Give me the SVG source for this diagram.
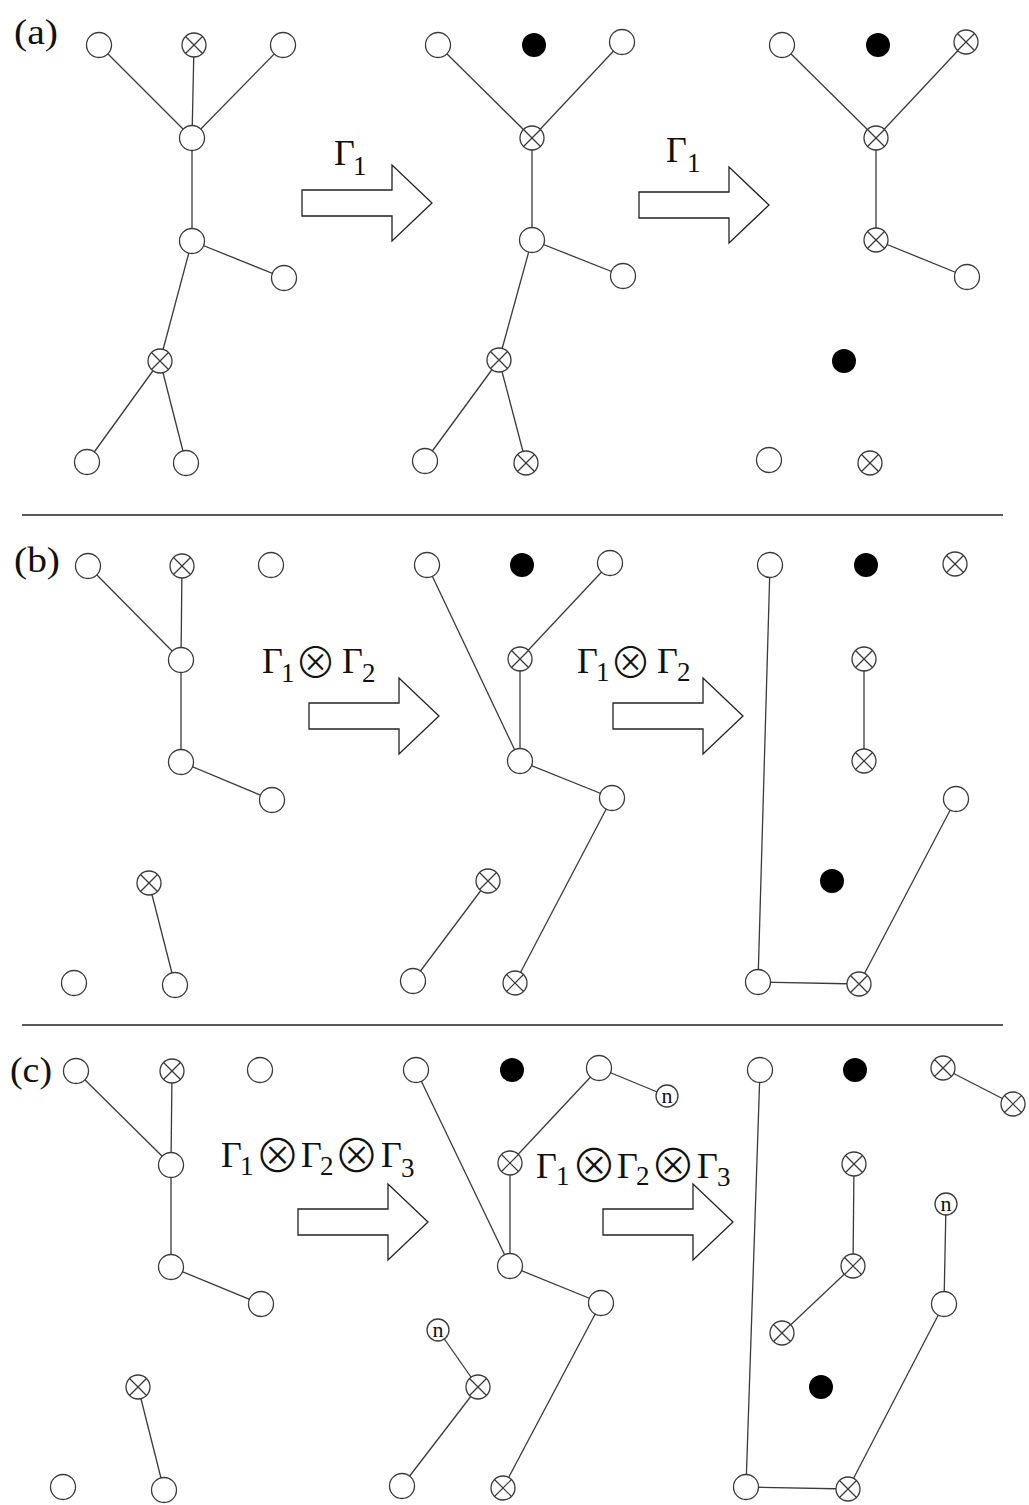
<svg xmlns="http://www.w3.org/2000/svg" xmlns:xlink="http://www.w3.org/1999/xlink" width="1029" height="1505" viewBox="0 0 1029 1505">
  <style>
    .bg { fill: #fff; }
    .ring { fill: #fff; stroke: #3a3a3a; stroke-width: 1.3; }
    .cross { stroke: #3a3a3a; stroke-width: 1.2; }
    .dot { fill: #000; }
    .edge { stroke: #3a3a3a; stroke-width: 1.3; fill: none; }
    .rule { stroke: #222; stroke-width: 1.3; }
    .arrow { fill: #fff; stroke: #222; stroke-width: 1.3; stroke-linejoin: miter; }
    .panel { font-family: "Liberation Serif", "Times New Roman", "DejaVu Serif", serif; font-size: 36px; fill: #111; }
    .gam { font-family: "Liberation Serif", "Times New Roman", "DejaVu Serif", serif; font-size: 36px; fill: #111; }
    .sub { font-family: "Liberation Serif", "Times New Roman", "DejaVu Serif", serif; font-size: 27px; fill: #111; }
    .otimes { font-family: "Noto Sans CJK JP", "Noto Sans CJK SC", "DejaVu Sans", sans-serif; font-weight: 300; fill: #111; text-anchor: middle; }
    .nlab { font-family: "Liberation Serif", "Times New Roman", "DejaVu Serif", serif; font-size: 22px; fill: #111; text-anchor: middle; }
  </style>
  <defs>
    <!-- open vertex -->
    <g id="o"><circle class="ring" r="12.5"/></g>
    <!-- crossed vertex -->
    <g id="x">
      <circle class="ring" r="12"/>
      <line class="cross" x1="-8.5" y1="-8.5" x2="8.5" y2="8.5"/>
      <line class="cross" x1="-8.5" y1="8.5" x2="8.5" y2="-8.5"/>
    </g>
    <!-- filled vertex -->
    <g id="f"><circle class="dot" r="12"/></g>
    <!-- vertex marked n -->
    <g id="n">
      <circle class="ring" r="11"/>
      <text class="nlab" x="0" y="6.5">n</text>
    </g>
    <!-- block arrow -->
    <path id="blk" class="arrow" d="M0,0 H90 V-25 L130,13 L90,51 V26 H0 Z"/>
  </defs>

  <rect class="bg" x="0" y="0" width="1029" height="1505"/>

  <!-- panel labels and separators -->
  <g id="panel-labels">
    <text class="panel" x="14" y="44" textLength="44" lengthAdjust="spacingAndGlyphs">(a)</text>
    <text class="panel" x="14" y="572" textLength="46" lengthAdjust="spacingAndGlyphs">(b)</text>
    <text class="panel" x="10" y="1082" textLength="42" lengthAdjust="spacingAndGlyphs">(c)</text>
  </g>
  <g id="separators">
    <line class="rule" x1="22" y1="515" x2="1003" y2="515"/>
    <line class="rule" x1="22" y1="1025" x2="1003" y2="1025"/>
  </g>

  <!-- connectors -->
  <g id="connectors">
    <!-- (a) -->
    <line class="edge" x1="99" y1="45" x2="192" y2="138"/>
    <line class="edge" x1="194" y1="45" x2="192" y2="138"/>
    <line class="edge" x1="283" y1="45" x2="192" y2="138"/>
    <line class="edge" x1="192" y1="138" x2="192" y2="241"/>
    <line class="edge" x1="192" y1="241" x2="284" y2="278"/>
    <line class="edge" x1="192" y1="241" x2="160" y2="361"/>
    <line class="edge" x1="160" y1="361" x2="87" y2="462"/>
    <line class="edge" x1="160" y1="361" x2="186" y2="463"/>

    <line class="edge" x1="438" y1="45" x2="532" y2="138"/>
    <line class="edge" x1="622" y1="42" x2="532" y2="138"/>
    <line class="edge" x1="532" y1="138" x2="532" y2="240"/>
    <line class="edge" x1="532" y1="240" x2="623" y2="276"/>
    <line class="edge" x1="532" y1="240" x2="499" y2="360"/>
    <line class="edge" x1="499" y1="360" x2="425" y2="461"/>
    <line class="edge" x1="499" y1="360" x2="526" y2="463"/>

    <line class="edge" x1="782" y1="45" x2="876" y2="138"/>
    <line class="edge" x1="966" y1="42" x2="876" y2="138"/>
    <line class="edge" x1="876" y1="138" x2="876" y2="240"/>
    <line class="edge" x1="876" y1="240" x2="967" y2="277"/>

    <!-- (b) -->
    <line class="edge" x1="88" y1="566" x2="181" y2="660"/>
    <line class="edge" x1="182" y1="566" x2="181" y2="660"/>
    <line class="edge" x1="181" y1="660" x2="181" y2="762"/>
    <line class="edge" x1="181" y1="762" x2="272" y2="800"/>
    <line class="edge" x1="149" y1="883" x2="175" y2="985"/>

    <line class="edge" x1="427" y1="565" x2="520" y2="761"/>
    <line class="edge" x1="610" y1="563" x2="520" y2="659"/>
    <line class="edge" x1="520" y1="659" x2="520" y2="761"/>
    <line class="edge" x1="520" y1="761" x2="612" y2="798"/>
    <line class="edge" x1="612" y1="798" x2="515" y2="983"/>
    <line class="edge" x1="488" y1="881" x2="413" y2="981"/>

    <line class="edge" x1="770" y1="565" x2="758" y2="982"/>
    <line class="edge" x1="758" y1="982" x2="859" y2="984"/>
    <line class="edge" x1="956" y1="799" x2="859" y2="984"/>
    <line class="edge" x1="864" y1="659" x2="864" y2="761"/>

    <!-- (c) -->
    <line class="edge" x1="76" y1="1071" x2="171" y2="1165"/>
    <line class="edge" x1="172" y1="1071" x2="171" y2="1165"/>
    <line class="edge" x1="171" y1="1165" x2="171" y2="1267"/>
    <line class="edge" x1="171" y1="1267" x2="261" y2="1304"/>
    <line class="edge" x1="138" y1="1387" x2="164" y2="1490"/>

    <line class="edge" x1="416" y1="1070" x2="510" y2="1266"/>
    <line class="edge" x1="599" y1="1068" x2="510" y2="1163"/>
    <line class="edge" x1="599" y1="1068" x2="667" y2="1096"/>
    <line class="edge" x1="510" y1="1163" x2="510" y2="1266"/>
    <line class="edge" x1="510" y1="1266" x2="601" y2="1303"/>
    <line class="edge" x1="601" y1="1303" x2="503" y2="1488"/>
    <line class="edge" x1="438" y1="1330" x2="478" y2="1387"/>
    <line class="edge" x1="478" y1="1387" x2="402" y2="1486"/>

    <line class="edge" x1="760" y1="1070" x2="746" y2="1487"/>
    <line class="edge" x1="746" y1="1487" x2="848" y2="1489"/>
    <line class="edge" x1="944" y1="1304" x2="848" y2="1489"/>
    <line class="edge" x1="946" y1="1204" x2="944" y2="1304"/>
    <line class="edge" x1="854" y1="1164" x2="853" y2="1266"/>
    <line class="edge" x1="853" y1="1266" x2="782" y2="1333"/>
    <line class="edge" x1="943" y1="1068" x2="1013" y2="1104"/>
  </g>

  <!-- transition arrows -->
  <g id="arrow-a1"><use xlink:href="#blk" href="#blk" transform="translate(302,190)"/></g>
  <g id="arrow-a2"><use xlink:href="#blk" href="#blk" transform="translate(639,192)"/></g>
  <g id="arrow-b1"><use xlink:href="#blk" href="#blk" transform="translate(309,703)"/></g>
  <g id="arrow-b2"><use xlink:href="#blk" href="#blk" transform="translate(613,703)"/></g>
  <g id="arrow-c1"><use xlink:href="#blk" href="#blk" transform="translate(298,1209)"/></g>
  <g id="arrow-c2"><use xlink:href="#blk" href="#blk" transform="translate(603,1209)"/></g>

  <!-- operator labels -->
  <g id="label-a1">
    <text class="gam" x="334" y="165">Γ</text><text class="sub" x="353" y="175">1</text>
  </g>
  <g id="label-a2">
    <text class="gam" x="666" y="162">Γ</text><text class="sub" x="687" y="172">1</text>
  </g>
  <g id="label-b1">
    <text class="gam" x="262" y="673">Γ</text><text class="sub" x="281" y="682">1</text>
    <text class="otimes" x="315.5" y="677.5" font-size="42">⊗</text>
    <text class="gam" x="342" y="673">Γ</text><text class="sub" x="362" y="682">2</text>
  </g>
  <g id="label-b2">
    <text class="gam" x="577" y="673">Γ</text><text class="sub" x="596" y="681">1</text>
    <text class="otimes" x="630.5" y="677.5" font-size="42">⊗</text>
    <text class="gam" x="657" y="673">Γ</text><text class="sub" x="677" y="681">2</text>
  </g>
  <g id="label-c1">
    <text class="gam" x="221" y="1167">Γ</text><text class="sub" x="240" y="1175">1</text>
    <text class="otimes" x="277.5" y="1172" font-size="46">⊗</text>
    <text class="gam" x="301" y="1167">Γ</text><text class="sub" x="320" y="1175">2</text>
    <text class="otimes" x="356.5" y="1172" font-size="46">⊗</text>
    <text class="gam" x="381" y="1167">Γ</text><text class="sub" x="401" y="1177">3</text>
  </g>
  <g id="label-c2">
    <text class="gam" x="536" y="1178">Γ</text><text class="sub" x="556" y="1185">1</text>
    <text class="otimes" x="594" y="1182" font-size="46">⊗</text>
    <text class="gam" x="617" y="1178">Γ</text><text class="sub" x="636" y="1185">2</text>
    <text class="otimes" x="673" y="1182" font-size="46">⊗</text>
    <text class="gam" x="697" y="1178">Γ</text><text class="sub" x="717" y="1186">3</text>
  </g>

  <!-- vertices: panel (a) -->
  <g id="a1-v1"><use href="#o" x="99" y="45"/></g>
  <g id="a1-v2"><use href="#x" x="194" y="45"/></g>
  <g id="a1-v3"><use href="#o" x="283" y="45"/></g>
  <g id="a1-v4"><use href="#o" x="192" y="138"/></g>
  <g id="a1-v5"><use href="#o" x="192" y="241"/></g>
  <g id="a1-v6"><use href="#o" x="284" y="278"/></g>
  <g id="a1-v7"><use href="#x" x="160" y="361"/></g>
  <g id="a1-v8"><use href="#o" x="87" y="462"/></g>
  <g id="a1-v9"><use href="#o" x="186" y="463"/></g>

  <g id="a2-v1"><use href="#o" x="438" y="45"/></g>
  <g id="a2-v2"><use href="#f" x="534" y="45"/></g>
  <g id="a2-v3"><use href="#o" x="622" y="42"/></g>
  <g id="a2-v4"><use href="#x" x="532" y="138"/></g>
  <g id="a2-v5"><use href="#o" x="532" y="240"/></g>
  <g id="a2-v6"><use href="#o" x="623" y="276"/></g>
  <g id="a2-v7"><use href="#x" x="499" y="360"/></g>
  <g id="a2-v8"><use href="#o" x="425" y="461"/></g>
  <g id="a2-v9"><use href="#x" x="526" y="463"/></g>

  <g id="a3-v1"><use href="#o" x="782" y="45"/></g>
  <g id="a3-v2"><use href="#f" x="878" y="45"/></g>
  <g id="a3-v3"><use href="#x" x="966" y="42"/></g>
  <g id="a3-v4"><use href="#x" x="876" y="138"/></g>
  <g id="a3-v5"><use href="#x" x="876" y="240"/></g>
  <g id="a3-v6"><use href="#o" x="967" y="277"/></g>
  <g id="a3-v7"><use href="#f" x="844" y="361"/></g>
  <g id="a3-v8"><use href="#o" x="769" y="460"/></g>
  <g id="a3-v9"><use href="#x" x="870" y="463"/></g>

  <!-- vertices: panel (b) -->
  <g id="b1-v1"><use href="#o" x="88" y="566"/></g>
  <g id="b1-v2"><use href="#x" x="182" y="566"/></g>
  <g id="b1-v3"><use href="#o" x="271" y="565"/></g>
  <g id="b1-v4"><use href="#o" x="181" y="660"/></g>
  <g id="b1-v5"><use href="#o" x="181" y="762"/></g>
  <g id="b1-v6"><use href="#o" x="272" y="800"/></g>
  <g id="b1-v7"><use href="#x" x="149" y="883"/></g>
  <g id="b1-v8"><use href="#o" x="74" y="983"/></g>
  <g id="b1-v9"><use href="#o" x="175" y="985"/></g>

  <g id="b2-v1"><use href="#o" x="427" y="565"/></g>
  <g id="b2-v2"><use href="#f" x="522" y="565"/></g>
  <g id="b2-v3"><use href="#o" x="610" y="563"/></g>
  <g id="b2-v4"><use href="#x" x="520" y="659"/></g>
  <g id="b2-v5"><use href="#o" x="520" y="761"/></g>
  <g id="b2-v6"><use href="#o" x="612" y="798"/></g>
  <g id="b2-v7"><use href="#x" x="488" y="881"/></g>
  <g id="b2-v8"><use href="#o" x="413" y="981"/></g>
  <g id="b2-v9"><use href="#x" x="515" y="983"/></g>

  <g id="b3-v1"><use href="#o" x="770" y="565"/></g>
  <g id="b3-v2"><use href="#f" x="866" y="565"/></g>
  <g id="b3-v3"><use href="#x" x="955" y="564"/></g>
  <g id="b3-v4"><use href="#x" x="864" y="659"/></g>
  <g id="b3-v5"><use href="#x" x="864" y="761"/></g>
  <g id="b3-v6"><use href="#o" x="956" y="799"/></g>
  <g id="b3-v7"><use href="#f" x="832" y="881"/></g>
  <g id="b3-v8"><use href="#o" x="758" y="982"/></g>
  <g id="b3-v9"><use href="#x" x="859" y="984"/></g>

  <!-- vertices: panel (c) -->
  <g id="c1-v1"><use href="#o" x="76" y="1071"/></g>
  <g id="c1-v2"><use href="#x" x="172" y="1071"/></g>
  <g id="c1-v3"><use href="#o" x="260" y="1070"/></g>
  <g id="c1-v4"><use href="#o" x="171" y="1165"/></g>
  <g id="c1-v5"><use href="#o" x="171" y="1267"/></g>
  <g id="c1-v6"><use href="#o" x="261" y="1304"/></g>
  <g id="c1-v7"><use href="#x" x="138" y="1387"/></g>
  <g id="c1-v8"><use href="#o" x="63" y="1487"/></g>
  <g id="c1-v9"><use href="#o" x="164" y="1490"/></g>

  <g id="c2-v1"><use href="#o" x="416" y="1070"/></g>
  <g id="c2-v2"><use href="#f" x="512" y="1070"/></g>
  <g id="c2-v3"><use href="#o" x="599" y="1068"/></g>
  <g id="c2-v4"><use href="#n" x="667" y="1096"/></g>
  <g id="c2-v5"><use href="#x" x="510" y="1163"/></g>
  <g id="c2-v6"><use href="#o" x="510" y="1266"/></g>
  <g id="c2-v7"><use href="#o" x="601" y="1303"/></g>
  <g id="c2-v8"><use href="#n" x="438" y="1330"/></g>
  <g id="c2-v9"><use href="#x" x="478" y="1387"/></g>
  <g id="c2-v10"><use href="#o" x="402" y="1486"/></g>
  <g id="c2-v11"><use href="#x" x="503" y="1488"/></g>

  <g id="c3-v1"><use href="#o" x="760" y="1070"/></g>
  <g id="c3-v2"><use href="#f" x="855" y="1070"/></g>
  <g id="c3-v3"><use href="#x" x="943" y="1068"/></g>
  <g id="c3-v4"><use href="#x" x="1013" y="1104"/></g>
  <g id="c3-v5"><use href="#x" x="854" y="1164"/></g>
  <g id="c3-v6"><use href="#n" x="946" y="1204"/></g>
  <g id="c3-v7"><use href="#x" x="853" y="1266"/></g>
  <g id="c3-v8"><use href="#o" x="944" y="1304"/></g>
  <g id="c3-v9"><use href="#x" x="782" y="1333"/></g>
  <g id="c3-v10"><use href="#f" x="821" y="1387"/></g>
  <g id="c3-v11"><use href="#o" x="746" y="1487"/></g>
  <g id="c3-v12"><use href="#x" x="848" y="1489"/></g>
</svg>
